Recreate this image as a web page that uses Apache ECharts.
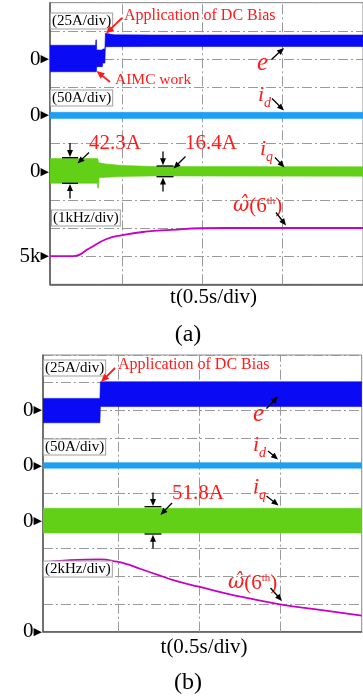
<!DOCTYPE html>
<html><head><meta charset="utf-8">
<script src="https://cdn.jsdelivr.net/npm/echarts@6/dist/echarts.min.js"></script>
<style>html,body{margin:0;padding:0;background:#fff}#c{width:363px;height:699px}</style>
</head><body><div id="c"></div>
<script>
// ================= DATA =================
// vertical grid positions (time, s) – 0.5 s/div
const gridTimes = [0.5, 1.0, 1.5];

// ---- Panel (a) ----
// e : 25 A/div, envelope (A)
const eA_t  = [0.05, 0.334, 0.336, 0.339, 0.341, 0.376, 0.379, 0.392, 0.395, 0.45, 0.70, 2.00];
const eA_hi = [12.2, 12.2, 17.0, 17.0, 8.0, 8.0, 8.9, 8.9, 22.8, 21.5, 21.3, 21.3];
const eA_lo = [-11.3, -11.3, -11.3, -11.3, -6.8, -6.8, -3.6, -3.6, 10.9, 11.0, 11.1, 11.1];
// id : 50 A/div
const idA_t  = [0.05, 2.00];
const idA_hi = [5.4, 5.4];
const idA_lo = [-5.4, -5.4];
// iq : 50 A/div
const iqA_t  = [0.05, 0.345, 0.347, 0.352, 0.356, 0.40, 0.50, 0.70, 2.00];
const iqA_hi = [23.5, 23.5, 23.5, 17.0, 16.0, 13.5, 11.0, 9.0, 8.5];
const iqA_lo = [-20.5, -20.5, -29.0, -29.0, -11.0, -10.0, -8.5, -7.5, -8.0];
// omega hat (6th) : 1 kHz/div, kHz
const wA_t = [0.05, 0.193, 0.296, 0.399, 0.501, 0.645, 0.806, 0.991, 1.30, 2.00];
const wA   = [5.0, 5.0, 5.28, 5.6, 5.75, 5.87, 5.93, 5.99, 6.0, 6.0];

// ---- Panel (b) ----
const eB_t  = [0.04, 0.390, 0.393, 2.00];
const eB_hi = [10.8, 10.8, 25.8, 25.8];
const eB_lo = [-11.2, -11.2, 3.4, 3.4];
const idB_t  = [0.04, 2.00];
const idB_hi = [5.5, 5.5];
const idB_lo = [-4.5, -4.5];
const iqB_t  = [0.04, 2.00];
const iqB_hi = [23.0, 23.0];
const iqB_lo = [-21.5, -21.5];
// omega hat (6th) : 2 kHz/div, kHz
const wB_t = [0.04, 0.206, 0.391, 0.495, 0.563, 0.637, 0.760, 0.840, 0.999, 1.209, 1.498, 1.744, 2.00];
const wB   = [5.01, 5.18, 5.23, 5.06, 4.86, 4.55, 4.05, 3.73, 3.25, 2.65, 1.98, 1.57, 1.16];

// zero-marker labels on the left axis (division index -> text)
const zeroLabelsA = {8: '0', 6: '0', 4: '0', 1: '5k'};
const zeroLabelsB = {8: '0', 6: '0', 4: '0', 0: '0'};

// ================= STYLE / LAYOUT =================
const SERIF = '"Liberation Serif", serif';
const C_E = '#0a0af5', C_ID = '#1f9ff2', C_IQ = '#62d016', C_W = '#c800c8', RED = '#ff1a1a';
const DASH = [10, 3, 2, 3];

function toDiv(v, zeroDiv, perDiv, base) { return zeroDiv + (v - (base || 0)) / perDiv; }

function band(gi, ts, hi, lo, zeroDiv, perDiv, color) {
  return {
    type: 'custom', xAxisIndex: gi, yAxisIndex: gi, z: 2, silent: true, clip: true,
    data: [[ts[0], zeroDiv]],
    renderItem: function (params, api) {
      const pts = [];
      for (let i = 0; i < ts.length; i++) pts.push(api.coord([ts[i], toDiv(hi[i], zeroDiv, perDiv)]));
      for (let i = ts.length - 1; i >= 0; i--) pts.push(api.coord([ts[i], toDiv(lo[i], zeroDiv, perDiv)]));
      return {type: 'polygon', shape: {points: pts}, style: {fill: color, stroke: color, lineWidth: 0.6}};
    }
  };
}
function omega(gi, ts, vals, zeroDiv, perDiv, base) {
  return {
    type: 'line', xAxisIndex: gi, yAxisIndex: gi, z: 3, silent: true,
    showSymbol: false, smooth: 0.5,
    data: ts.map((t, i) => [t, toDiv(vals[i], zeroDiv, perDiv, base)]),
    lineStyle: {color: C_W, width: 1.8},
    markLine: {
      silent: true, symbol: 'none', z: 1, label: {show: false},
      lineStyle: {color: '#9a9a9a', width: 1, type: DASH},
      data: gridTimes.map(t => ({xAxis: t}))
    }
  };
}
function xAx(gi, min, max) {
  return {type: 'value', gridIndex: gi, min: min, max: max,
    axisLine: {show: true, lineStyle: {color: '#555', width: 1.5}},
    axisTick: {show: false}, axisLabel: {show: false}, splitLine: {show: false}};
}
function yAx(gi, labels) {
  return {type: 'value', gridIndex: gi, min: 0, max: 10, interval: 1,
    axisLine: {show: true, lineStyle: {color: '#555', width: 1.5}},
    axisTick: {show: false},
    splitLine: {show: true, lineStyle: {color: '#9a9a9a', width: 1, type: DASH}},
    axisLabel: {show: true, margin: 1, showMinLabel: true, showMaxLabel: true,
      formatter: v => labels[Math.round(v)] ? '{n|' + labels[Math.round(v)] + '}{t|▶}' : '',
      rich: {
        n: {fontFamily: SERIF, fontSize: 21, color: '#000'},
        t: {fontFamily: 'DejaVu Sans', fontSize: 11, color: '#000'}
      }}
  };
}

// ---- annotation helpers ----
function arrow(x1, y1, x2, y2, color, lw, hl, hw) {
  const dx = x2 - x1, dy = y2 - y1, L = Math.hypot(dx, dy), ux = dx / L, uy = dy / L;
  const bx = x2 - ux * hl, by = y2 - uy * hl, nx = -uy, ny = ux;
  return [
    {type: 'line', z: 100, shape: {x1: x1, y1: y1, x2: bx + ux, y2: by + uy}, style: {stroke: color, lineWidth: lw}},
    {type: 'polygon', z: 100, shape: {points: [[x2, y2], [bx + nx * hw / 2, by + ny * hw / 2], [bx - nx * hw / 2, by - ny * hw / 2]]}, style: {fill: color}}
  ];
}
function hbar(x1, x2, y) {
  return {type: 'line', z: 100, shape: {x1: x1, y1: y, x2: x2, y2: y}, style: {stroke: '#000', lineWidth: 1.3}};
}
function txt(x, y, text, size, color, extra, italic) {
  return {type: 'text', z: 100, x: x, y: y,
    style: Object.assign({text: text, fill: color || '#000',
      font: (italic ? 'italic ' : '') + size + 'px ' + SERIF,
      align: 'left', verticalAlign: 'middle'}, extra || {})};
}
function boxTxt(x, y, text) {
  return txt(x, y, text, 15, '#000', {backgroundColor: '#fff', borderColor: '#a0a0a0', borderWidth: 1, padding: [0, 1, 0, 1]});
}
function iSub(x, y, sub) {
  return {type: 'text', z: 100, x: x, y: y, style: {
    text: '{i|i}{d|' + sub + '}', align: 'left', verticalAlign: 'middle',
    rich: {
      i: {font: 'italic 22px ' + SERIF, fill: RED, color: RED, padding: [0, 0, 4, 0]},
      d: {font: 'italic 14px ' + SERIF, fill: RED, color: RED, verticalAlign: 'bottom'}
    }}};
}
function wLabel(x, y) {
  return {type: 'text', z: 100, x: x, y: y, style: {
    text: '{w|ω̂}{p|(6}{s|th}{p|)}', align: 'left', verticalAlign: 'middle',
    rich: {
      w: {font: 'italic 20px "DejaVu Serif", serif', fill: RED, color: RED},
      p: {font: '21px ' + SERIF, fill: RED, color: RED},
      s: {font: '11px ' + SERIF, fill: RED, color: RED, verticalAlign: 'top', padding: [0, 0, 8, 0]}
    }}};
}

const g = [];
// ---- panel (a) annotations ----
g.push(boxTxt(51, 21, '(25A/div)'));
g.push(txt(124, 16, 'Application of DC Bias', 16, RED));
g.push(...arrow(122, 18, 106, 33.5, RED, 1.8, 8, 7));
g.push(txt(115, 80, 'AIMC work', 15.5, RED));
g.push(...arrow(110, 82, 96.5, 71, RED, 1.8, 8, 7));
g.push(txt(257, 63, 'e', 25, RED, null, true));
g.push(...arrow(271.5, 59.5, 284, 48, '#000', 1.3, 7, 6));
g.push(boxTxt(51, 98, '(50A/div)'));
g.push(iSub(258, 97, 'd'));
g.push(...arrow(272, 98.5, 284, 110.5, '#000', 1.3, 7, 6));
g.push(txt(89, 143, '42.3A', 21, RED));
g.push(hbar(62, 78, 157.7), hbar(62, 78, 183.3));
g.push(...arrow(70, 143, 70, 157, '#000', 1.3, 7, 6));
g.push(...arrow(70, 198.5, 70, 184, '#000', 1.3, 7, 6));
g.push(...arrow(89, 152.5, 77.5, 163.5, '#000', 1.3, 7, 6));
g.push(txt(185, 143, '16.4A', 21, RED));
g.push(hbar(156.5, 173.5, 166), hbar(156.5, 173.5, 176.7));
g.push(...arrow(163, 151.5, 163, 165.3, '#000', 1.3, 7, 6));
g.push(...arrow(163, 191.5, 163, 177.4, '#000', 1.3, 7, 6));
g.push(...arrow(185.5, 156.5, 173.5, 168.5, '#000', 1.3, 7, 6));
g.push(iSub(260, 151, 'q'));
g.push(...arrow(275, 157.5, 284.5, 167.5, '#000', 1.3, 7, 6));
g.push(boxTxt(52, 218, '(1kHz/div)'));
g.push(wLabel(233, 206));
g.push(...arrow(276, 212.5, 286, 225.5, '#000', 1.3, 7, 6));
g.push(txt(213.5, 297, 't(0.5s/div)', 21, '#000', {align: 'center'}));
g.push(txt(188, 335, '(a)', 24, '#000', {align: 'center'}));
// ---- panel (b) annotations ----
g.push(boxTxt(44, 368, '(25A/div)'));
g.push(txt(118, 365, 'Application of DC Bias', 16, RED));
g.push(...arrow(115, 368, 101, 382, RED, 1.8, 8, 7));
g.push(txt(253, 414, 'e', 25, RED, null, true));
g.push(...arrow(266.5, 408.5, 278, 396.5, '#000', 1.3, 7, 6));
g.push(boxTxt(44, 447, '(50A/div)'));
g.push(iSub(253, 447, 'd'));
g.push(...arrow(268, 451, 278, 459.5, '#000', 1.3, 7, 6));
g.push(txt(172, 493, '51.8A', 21, RED));
g.push(hbar(144.5, 161.5, 506.7), hbar(144.5, 161.5, 534));
g.push(...arrow(153, 492.5, 153, 506, '#000', 1.3, 7, 6));
g.push(...arrow(153, 548.5, 153, 534.7, '#000', 1.3, 7, 6));
g.push(...arrow(172, 503, 160.5, 515, '#000', 1.3, 7, 6));
g.push(iSub(253, 489, 'q'));
g.push(...arrow(266.5, 496, 278.5, 505.5, '#000', 1.3, 7, 6));
g.push(boxTxt(44, 569, '(2kHz/div)'));
g.push(wLabel(228, 583));
g.push(...arrow(270.5, 588, 282, 601, '#000', 1.3, 7, 6));
g.push(txt(204, 647, 't(0.5s/div)', 21, '#000', {align: 'center'}));
g.push(txt(188, 683, '(b)', 24, '#000', {align: 'center'}));

// ================= CHART =================
const chart = echarts.init(document.getElementById('c'), null, {renderer: 'canvas'});
chart.setOption({
  backgroundColor: '#fff',
  animation: false,
  grid: [
    {left: 50, top: 2.7, width: 317.1, height: 281.6, show: true, borderColor: '#8a8a8a', borderWidth: 1, containLabel: false},
    {left: 43, top: 355, width: 318.7, height: 276.7, show: true, borderColor: '#8a8a8a', borderWidth: 1, containLabel: false}
  ],
  xAxis: [xAx(0, 0.05, 2.0), xAx(1, 0.04, 2.0)],
  yAxis: [yAx(0, zeroLabelsA), yAx(1, zeroLabelsB)],
  series: [
    omega(0, wA_t, wA, 1, 1, 5),
    band(0, eA_t, eA_hi, eA_lo, 8, 25, C_E),
    band(0, idA_t, idA_hi, idA_lo, 6, 50, C_ID),
    band(0, iqA_t, iqA_hi, iqA_lo, 4, 50, C_IQ),
    omega(1, wB_t, wB, 0, 2, 0),
    band(1, eB_t, eB_hi, eB_lo, 8, 25, C_E),
    band(1, idB_t, idB_hi, idB_lo, 6, 50, C_ID),
    band(1, iqB_t, iqB_hi, iqB_lo, 4, 50, C_IQ)
  ],
  graphic: {elements: g}
});
</script>
</body></html>
